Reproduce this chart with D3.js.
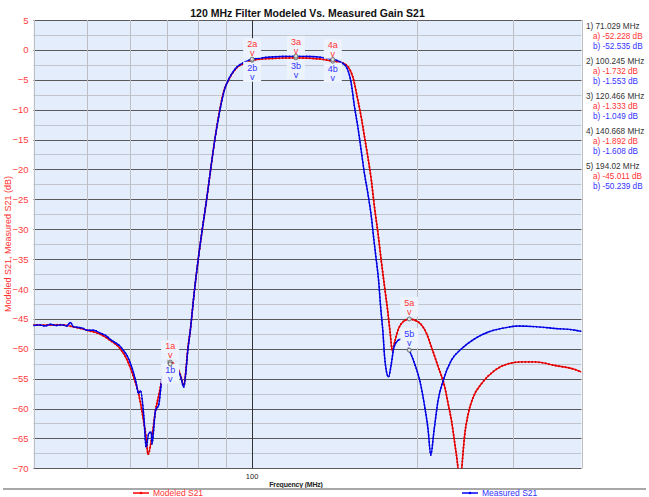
<!DOCTYPE html>
<html><head><meta charset="utf-8">
<script src="https://cdn.jsdelivr.net/npm/d3@7"></script>
<style>
html,body{margin:0;padding:0;background:#fff;}
svg{display:block;font-family:"Liberation Sans",Arial,sans-serif;}
</style></head>
<body><svg id="c" width="649" height="497"></svg>
<script>
// ---------- data ----------
const chartTitle = "120 MHz Filter Modeled Vs. Measured Gain S21";
const yTicks = [5,0,-5,-10,-15,-20,-25,-30,-35,-40,-45,-50,-55,-60,-65,-70];
const xTickLabels = [100];
const xGrid = [50,60,70,80,90,100,200,300];

const modeledFreq = [40,42,44,45.3,47,48.7,50.1,53.0,55.2,57.6,59.3,60.9,62.2,63.5,64.3,64.7,65.8,66.8,67.7,68.7,69.8,71.029,72.3,73.5,74.4,75.2,75.9,76.4,77.4,78.5,79.8,81.3,82.8,84.2,85.7,87.5,89.1,90.6,92.3,94.2,96.9,100.245,104,108.5,113,120.466,128,134,140.668,145.7,149.9,153.0,156.3,158.5,160.7,163.0,165.4,167.6,170.1,172.4,174.9,177.4,179.1,180.6,182.4,185.5,189.0,194.02,201.3,208.5,212.9,219.0,225.2,228.4,231.6,234.9,238.3,239.8,241.6,245.0,248.5,253.8,263,278.1,294.3,311,329,358,390,400];
const modeledDb = [-46.0,-46.05,-46.0,-46.0,-46.3,-46.6,-46.9,-47.6,-48.6,-50.0,-51.9,-54.7,-57.5,-62.0,-65.3,-67.7,-64.7,-60.3,-57.8,-55.0,-53.3,-52.228,-52.6,-53.4,-54.8,-56.2,-53.5,-50.5,-46.5,-41,-35.5,-30,-25,-20,-15,-10,-6.7,-5.2,-3.9,-2.9,-2.3,-1.732,-1.55,-1.45,-1.38,-1.333,-1.4,-1.55,-1.892,-2.1,-2.8,-4.5,-8.4,-11.2,-14.5,-17.9,-21.8,-26.3,-30.7,-35.2,-39.7,-44.1,-47.5,-50.4,-48.9,-46.6,-45.5,-45.011,-45.5,-47.4,-49.7,-53.0,-56.4,-59.2,-62.0,-65.9,-70.5,-74,-70.5,-64.2,-60.9,-58.1,-55.8,-53.6,-52.5,-52.2,-52.2,-52.8,-53.5,-53.9];

const measuredFreq = [40,41,42,43,44,45,46,46.7,47.3,48,49,50.1,51.5,53.0,54.2,55.2,56.2,57.6,58.5,59.3,60.2,60.9,61.6,62.2,62.7,63.6,64.2,64.9,65.6,65.8,66.8,67.7,68.7,69.8,71.029,72.3,73.5,74.4,75.2,75.9,76.4,77.4,78.5,79.8,81.3,82.8,84.2,85.7,87.5,89.1,90.6,92.3,94.2,96.9,100.245,104,108.5,113,120.466,128,134,140.668,143,145.7,148.8,152.0,154.1,156.3,158.5,160.7,163.0,165.4,167.2,168.9,170.5,172.0,173.7,174.9,176.1,177.8,179.9,181.9,185.0,187.6,190.8,194.02,198.4,202.7,207.0,210.0,212.3,215.3,219.0,223.7,231.6,241.6,255.6,270.4,286,307,329,358,390,400];
const measuredDb = [-46.1,-46.0,-46.2,-45.9,-46.1,-46.0,-46.2,-45.6,-46.3,-46.4,-46.5,-46.9,-46.9,-47.4,-47.8,-48.4,-48.9,-49.6,-50.4,-51.2,-52.6,-54.0,-55.8,-57.5,-57.0,-61.4,-66.5,-64.2,-63.9,-65.9,-60.3,-59.4,-54.7,-53.5,-52.535,-52.9,-53.7,-55.0,-56.4,-53.8,-50.8,-46.5,-41,-35.5,-30,-25,-20,-15,-10.2,-6.9,-5.1,-3.8,-2.8,-2.1,-1.553,-1.35,-1.2,-1.1,-1.049,-1.1,-1.25,-1.608,-1.75,-2.1,-2.8,-5.6,-9.5,-12.9,-16.8,-20.7,-24.0,-27.9,-31.8,-35.2,-38.5,-43.0,-47.3,-51.4,-53.6,-54.7,-52.5,-49.7,-48.6,-48.4,-48.7,-50.239,-52.5,-55.3,-59.7,-63.6,-67.8,-63.6,-58.6,-55.3,-51.9,-50.0,-48.3,-47.2,-46.6,-46.2,-46.3,-46.6,-46.9,-47.1];

const markerFreq = [71.029,100.245,120.466,140.668,194.02];
const markerA = [-52.228,-1.732,-1.333,-1.892,-45.011];
const markerB = [-52.535,-1.553,-1.049,-1.608,-50.239];
const seriesNames = ["Modeled S21","Measured S21"];

// ---------- drawing ----------
const RED="#ff0000", BLUE="#0000ff", RED_T="#ff3333", BLUE_T="#3333ff";
const svg = d3.select("#c");
const L=33.5, R=581.5, T=20, B=468.3;
const x = d3.scaleLog().domain([40,400]).range([L,R]);
const y = d3.scaleLinear().domain([5,-70]).range([T,B]);

svg.append("rect").attr("x",L).attr("y",T).attr("width",R-L).attr("height",B-T).attr("fill","#e4edfb");

// grid
const hLines = d3.range(-70,5.01,2.5);
svg.append("g").selectAll("line").data(hLines).join("line")
  .attr("x1",L).attr("x2",R)
  .attr("y1",d=>Math.round(y(d))+0.5).attr("y2",d=>Math.round(y(d))+0.5)
  .attr("stroke",d=>(Math.abs(d%5)<1e-6)?"#5a5a5a":"#c2c6cc").attr("stroke-width",1);
svg.append("g").selectAll("line").data(xGrid.concat([40,400])).join("line")
  .attr("x1",d=>Math.round(x(d))+0.5).attr("x2",d=>Math.round(x(d))+0.5)
  .attr("y1",T).attr("y2",B)
  .attr("stroke",d=>d===100?"#333":"#bdbfc3").attr("stroke-width",1);

// clip
svg.append("clipPath").attr("id","pc").append("rect").attr("x",L).attr("y",T).attr("width",R-L).attr("height",B-T);

const line = d3.line().x(d=>x(d[0])).y(d=>y(d[1])).curve(d3.curveMonotoneX);
const modeled = modeledFreq.map((f,i)=>[f,modeledDb[i]]);
const measured = measuredFreq.map((f,i)=>[f,measuredDb[i]]);
const gl = svg.append("g").attr("clip-path","url(#pc)");
function series(data,col,dot,w){
  gl.append("path").attr("d",line(data)).attr("fill","none").attr("stroke",col).attr("stroke-width",1.4);
  gl.append("path").attr("d",line(data)).attr("fill","none").attr("stroke",dot).attr("stroke-width",w)
    .attr("stroke-linecap","round").attr("stroke-dasharray","0 3.4");
}
series(modeled,RED,"#d00000",2.0);
series(measured,BLUE,"#0000c0",1.7);

// markers with labels
const mg = svg.append("g").attr("font-size",9).attr("text-anchor","middle");
markerFreq.forEach((f,i)=>{
  const cx = x(f), ya = y(markerA[i]), yb = y(markerB[i]);
  const aL = ya-16, aV = ya-7;
  let bL, bV;
  if (Math.abs(ya-yb) < 20){ bL = aV+14.5; bV = aV+24; } else { bL = yb-16; bV = yb-7; }
  [[aL,aV,RED_T,(i+1)+"a"],[bL,bV,BLUE_T,(i+1)+"b"]].forEach(([l,v,c,t])=>{
    mg.append("rect").attr("x",cx-9).attr("y",l-6).attr("width",18).attr("height",v-l+10.5).attr("fill","#edf3fc");
    mg.append("text").attr("x",cx).attr("y",l+3.2).attr("fill",c).text(t);
    mg.append("text").attr("x",cx).attr("y",v+3.2).attr("fill",c).text("v");
  });
  [ya,yb].forEach(yy=>mg.append("circle").attr("cx",cx).attr("cy",yy).attr("r",2).attr("fill","#ddd").attr("stroke","#555").attr("stroke-width",0.8));
});

// axes
const ya = svg.append("g").attr("transform",`translate(${L},0)`)
  .call(d3.axisLeft(y).tickValues(yTicks).tickSize(0).tickPadding(5));
ya.select(".domain").remove();
ya.selectAll("text").attr("fill","#ff4040").attr("font-size",9.5).attr("font-family","Liberation Sans, Arial, sans-serif");
const xa = svg.append("g").attr("transform",`translate(0,${B})`)
  .call(d3.axisBottom(x).tickValues(xTickLabels).tickFormat(d3.format("d")).tickSize(0).tickPadding(5));
xa.select(".domain").remove();
xa.selectAll("text").attr("fill","#222").attr("font-size",7.5).attr("font-family","Liberation Sans, Arial, sans-serif");

svg.append("text").attr("x",296).attr("y",487).attr("text-anchor","middle").attr("font-size",7)
  .attr("font-weight","bold").attr("fill","#222").attr("letter-spacing",-0.2).text("Frequency (MHz)");
svg.append("text").attr("transform","translate(11,244) rotate(-90)").attr("text-anchor","middle")
  .attr("font-size",9).attr("fill","#ff3030").text("Modeled S21, Measured S21 (dB)");
svg.append("text").attr("x",(L+R)/2).attr("y",17).attr("text-anchor","middle").attr("font-size",10.5)
  .attr("font-weight","bold").attr("fill","#111").text(chartTitle);

// right side readout
const rg = svg.append("g").attr("font-size",8.2);
markerFreq.forEach((f,i)=>{
  const b0 = 29 + 35*i;
  rg.append("text").attr("x",586).attr("y",b0).attr("fill","#333").text(`${i+1}) ${f} MHz`);
  rg.append("text").attr("x",593).attr("y",b0+10).attr("fill",RED_T).text(`a) ${markerA[i]} dB`);
  rg.append("text").attr("x",593).attr("y",b0+20).attr("fill",BLUE_T).text(`b) ${markerB[i]} dB`);
});

// legend
svg.append("line").attr("x1",3).attr("x2",646).attr("y1",489).attr("y2",489).attr("stroke","#a8a8a8").attr("stroke-width",2);
const legendPos = [[133,153,RED,RED_T],[462,482,BLUE,BLUE_T]];
seriesNames.forEach((n,i)=>{
  const [lx,tx,c,tc] = legendPos[i];
  svg.append("line").attr("x1",lx).attr("x2",lx+16).attr("y1",493).attr("y2",493).attr("stroke",c).attr("stroke-width",1.5);
  svg.append("circle").attr("cx",lx+8).attr("cy",493).attr("r",1.3).attr("fill",c);
  svg.append("text").attr("x",tx).attr("y",496).attr("font-size",8.5).attr("fill",tc).text(n);
});
</script></body></html>
